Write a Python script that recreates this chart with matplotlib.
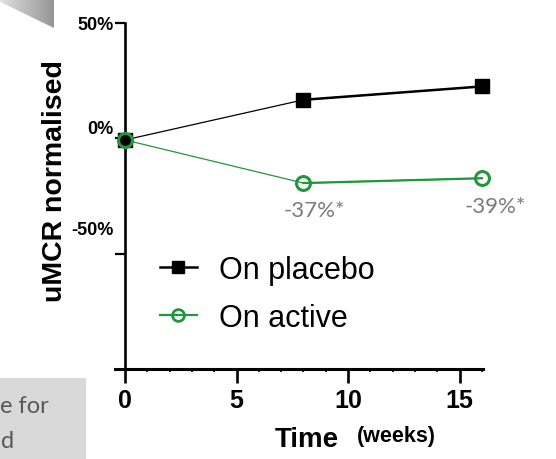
import matplotlib
matplotlib.use("Agg")
import matplotlib.pyplot as plt
from matplotlib.patches import Polygon, Rectangle
from matplotlib.transforms import ScaledTranslation
import numpy as np

weeks = [0, 8, 16]
placebo = [-0.7, 16.7, 22.5]
active = [-0.7, -19.4, -17.3]
annot_labels = ["-37%*", "-39%*"]
annot_weeks = [8, 16]
annot_y = [-31.0, -29.3]
annot_x_offset = [0.5, 0.6]
xticks = [0, 5, 10, 15]
yticks = [50, 0, -50]
ytick_labels = ["50%", "0%", "-50%"]

GREEN = "#22963c"
W, H = 556, 460
fig = plt.figure(figsize=(W / 100, H / 100), dpi=100)
fig.patch.set_facecolor("white")

# slide artefacts: gradient triangle top-left
tri_ax = fig.add_axes([0, 1 - 29 / H, 54 / W, 29 / H])
tri_ax.set_axis_off()
tri_ax.set_xlim(0, 1)
tri_ax.set_ylim(0, 1)
grad = np.linspace(0.88, 0.58, 64)[None, :].repeat(8, axis=0)
im = tri_ax.imshow(grad, cmap="gray", vmin=0, vmax=1, extent=[0, 1, 0, 1], aspect="auto")
tri = Polygon([[0, 0.9], [1, 0.0], [1, 1], [0, 1]], closed=True, transform=tri_ax.transData,
              facecolor="none", edgecolor="none")
tri_ax.add_patch(tri)
im.set_clip_path(tri)

fig.patches.append(Rectangle((0, 0), 86 / W, (460 - 379) / H, transform=fig.transFigure,
                             facecolor="#d9d9d9", edgecolor="none", zorder=0))
fig.text(0 / W, 1 - 407 / H, "e for", fontsize=17, color="#595959", family="Lato",
         ha="left", va="center")
fig.text(1 / W, 1 - 442 / H, "d", fontsize=17, color="#595959", family="Lato",
         ha="left", va="center")

left, right, top, bottom = 115, 483, 24, 370
ax = fig.add_axes([left / W, 1 - bottom / H, (right - left) / W, (bottom - top) / H])
ax.set_facecolor("none")
ax.set_xlim(-0.45, 16.05)
ax.set_ylim(-100, 50)

for s in ["top", "right"]:
    ax.spines[s].set_visible(False)
ax.spines["left"].set_position(("data", 0))
ax.spines["left"].set_linewidth(1.9)
ax.spines["bottom"].set_linewidth(2.2)

ax.set_xticks(xticks)
ax.set_xticks(np.arange(1, 17, 1), minor=True)
ax.set_xticklabels([str(t) for t in xticks], fontsize=18, fontweight="bold",
                   family="Liberation Sans")
ax.tick_params(axis="x", which="major", length=10, width=1.9, direction="out", pad=4)
ax.tick_params(axis="x", which="minor", length=2.5, width=1.2, direction="out")
ax.set_yticks(yticks)
ax.set_yticklabels(ytick_labels, fontsize=13, fontweight="bold", family="Liberation Sans")
ax.tick_params(axis="y", which="major", length=7, width=1.6, direction="out", pad=1)
# shift misplaced labels as in the original slide
offs = {"0%": 12 / 100, "-50%": 26 / 100}
for lab in ax.get_yticklabels():
    t = lab.get_text()
    if t in offs:
        lab.set_transform(lab.get_transform() + ScaledTranslation(0, offs[t], fig.dpi_scale_trans))

# placebo
ax.plot(weeks, placebo, color="black", lw=0.9, zorder=3)
ax.plot(weeks[1:], placebo[1:], color="black", lw=1.8, zorder=3)
ax.plot(weeks, placebo, ls="none", marker="s", ms=10, color="black", zorder=4, clip_on=False)
# active
ax.plot(weeks, active, color=GREEN, lw=0.9, zorder=3)
ax.plot(weeks[1:], active[1:], color=GREEN, lw=1.6, zorder=3)
ax.plot(weeks, active, ls="none", marker="o", ms=10, mfc="none", mec=GREEN, mew=2.2,
        zorder=5, clip_on=False)

for lab, wk, yy, dx in zip(annot_labels, annot_weeks, annot_y, annot_x_offset):
    ax.text(wk + dx, yy, lab, fontsize=16, color="#7a7a7a", family="Lato",
            ha="center", va="center")

# legend
hp, = ax.plot([], [], color="black", lw=1.8, marker="s", ms=9)
ha, = ax.plot([], [], color=GREEN, lw=1.6, marker="o", ms=8.5, mfc="none", mec=GREEN, mew=2)
leg = ax.legend([hp, ha], ["On placebo", "On active"], loc="upper left",
                bbox_to_anchor=(0.122, 0.33), frameon=False,
                prop={"family": "Liberation Sans", "size": 22},
                handlelength=1.2, handletextpad=0.75, labelspacing=0.6, borderpad=0,
                borderaxespad=0)

fig.text(55 / W, 1 - 181 / H, "uMCR normalised", rotation=90, fontsize=20.5,
         fontweight="bold", family="Liberation Sans", ha="center", va="center")
fig.text(339 / W, 1 - 440 / H, "Time", fontsize=20, fontweight="bold",
         family="Liberation Sans", ha="right", va="center")
fig.text(357 / W, 1 - 437 / H, "(weeks)", fontsize=15.5, fontweight="bold",
         family="Liberation Sans", ha="left", va="center")

fig.savefig("out.png", dpi=100)
